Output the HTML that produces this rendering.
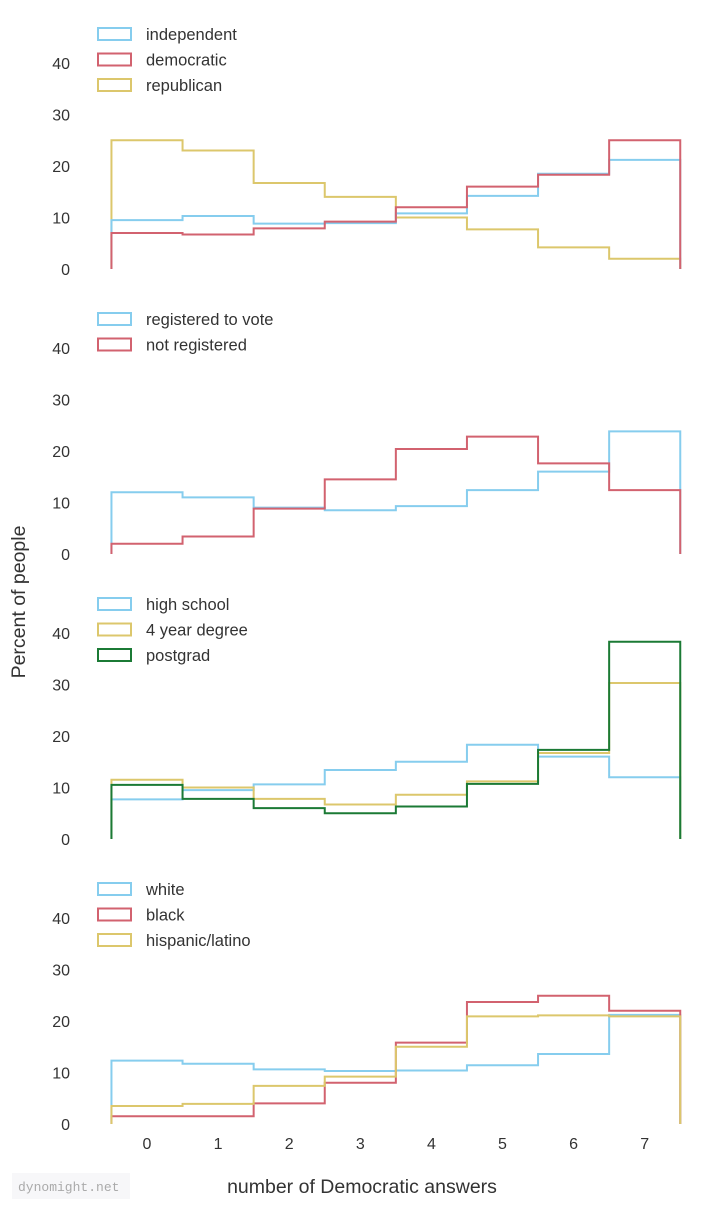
<!DOCTYPE html>
<html><head><meta charset="utf-8"><style>
body{margin:0;background:#fff;}
svg text{font-family:"Liberation Sans",sans-serif;fill:#333;}
</style></head><body>
<svg id="c" width="720" height="1207" xmlns="http://www.w3.org/2000/svg">
<rect x="12" y="1173" width="118" height="26" fill="#f7f7f9"/>
<text x="18" y="1191" font-size="13" fill="#aaa" style="font-family:'Liberation Mono',monospace;fill:#aaa">dynomight.net</text>
<text x="362" y="1193" text-anchor="middle" font-size="19.5">number of Democratic answers</text>
<text transform="translate(25,602) rotate(-90)" text-anchor="middle" font-size="19.5">Percent of people</text>
</svg>
<script>
const bins=[0,1,2,3,4,5,6,7];
const yTicks=[0,10,20,30,40];
const p1Names=["independent","democratic","republican"];
const p1Independent=[9.5,10.3,8.8,8.9,10.8,14.2,18.5,21.2];
const p1Democratic=[7,6.7,7.9,9.2,12,16,18.3,25];
const p1Republican=[25,23,16.7,14,10,7.7,4.2,2];
const p2Names=["registered to vote","not registered"];
const p2Registered=[12,11,9,8.5,9.3,12.4,16,23.8];
const p2NotRegistered=[2,3.4,8.8,14.5,20.4,22.8,17.6,12.4];
const p3Names=["high school","4 year degree","postgrad"];
const p3HighSchool=[7.7,9.5,10.6,13.4,15,18.3,16,12];
const p3FourYear=[11.5,10,7.8,6.7,8.6,11.2,16.7,30.3];
const p3Postgrad=[10.5,7.8,6,5,6.3,10.7,17.3,38.3];
const p4Names=["white","black","hispanic/latino"];
const p4White=[12.3,11.7,10.6,10.3,10.4,11.4,13.6,21.2];
const p4Black=[1.5,1.5,4,8,15.8,23.7,24.9,22];
const p4Hispanic=[3.5,3.9,7.4,9.2,15,20.9,21.1,20.9];

const BLUE="#86cdee",RED="#d2626f",YEL="#dcc76c",GRN="#1b7a35";
const svg=document.getElementById('c');
const NS="http://www.w3.org/2000/svg";
const x=v=>147+(v)*71.1;
const panels=[
 {top:0,names:p1Names,series:[p1Independent,p1Democratic,p1Republican],colors:[BLUE,RED,YEL],order:[2,0,1]},
 {top:285,names:p2Names,series:[p2Registered,p2NotRegistered],colors:[BLUE,RED],order:[0,1]},
 {top:570,names:p3Names,series:[p3HighSchool,p3FourYear,p3Postgrad],colors:[BLUE,YEL,GRN],order:[0,1,2]},
 {top:855,names:p4Names,series:[p4White,p4Black,p4Hispanic],colors:[BLUE,RED,YEL],order:[0,1,2]}
];
panels.forEach((p,pi)=>{
 const y=v=>269+p.top-v*5.15;
 const g=document.createElementNS(NS,'g');
 
 
 svg.appendChild(g);
 yTicks.forEach(t=>{
  const tx=document.createElementNS(NS,'text');
  tx.setAttribute('x',70);tx.setAttribute('y',y(t)+6);tx.setAttribute('text-anchor','end');tx.setAttribute('font-size','16');
  tx.textContent=t;
  
  
  g.appendChild(tx);
 });
 p.order.forEach(si=>{
  const d=p.series[si];
  let s='M'+x(bins[0]-0.5)+','+y(0);
  d.forEach((v,i)=>{s+=' L'+x(bins[i]-0.5)+','+y(v)+' L'+x(bins[i]+0.5)+','+y(v);});
  s+=' L'+x(bins[bins.length-1]+0.5)+','+y(0);
  const path=document.createElementNS(NS,'path');
  path.setAttribute('d',s);path.setAttribute('fill','none');path.setAttribute('stroke',p.colors[si]);path.setAttribute('stroke-width','2');
  
  
  g.appendChild(path);
 });
 p.names.forEach((n,i)=>{
  const ly=p.top+34+i*25.5;
  const r=document.createElementNS(NS,'rect');
  r.setAttribute('x',98);r.setAttribute('y',ly-6);r.setAttribute('width',33);r.setAttribute('height',12);
  r.setAttribute('fill','none');r.setAttribute('stroke',p.colors[i]);r.setAttribute('stroke-width','2');
  
  
  g.appendChild(r);
  const t=document.createElementNS(NS,'text');
  t.setAttribute('x',146);t.setAttribute('y',ly+6);t.setAttribute('font-size','16.5');t.textContent=n;
  
  
  g.appendChild(t);
 });
});
bins.forEach(b=>{
 const t=document.createElementNS(NS,'text');
 t.setAttribute('x',x(b));t.setAttribute('y',1149);t.setAttribute('text-anchor','middle');t.setAttribute('font-size','16');
 t.textContent=b;
 
 
 svg.appendChild(t);
});
</script>
</body></html>
